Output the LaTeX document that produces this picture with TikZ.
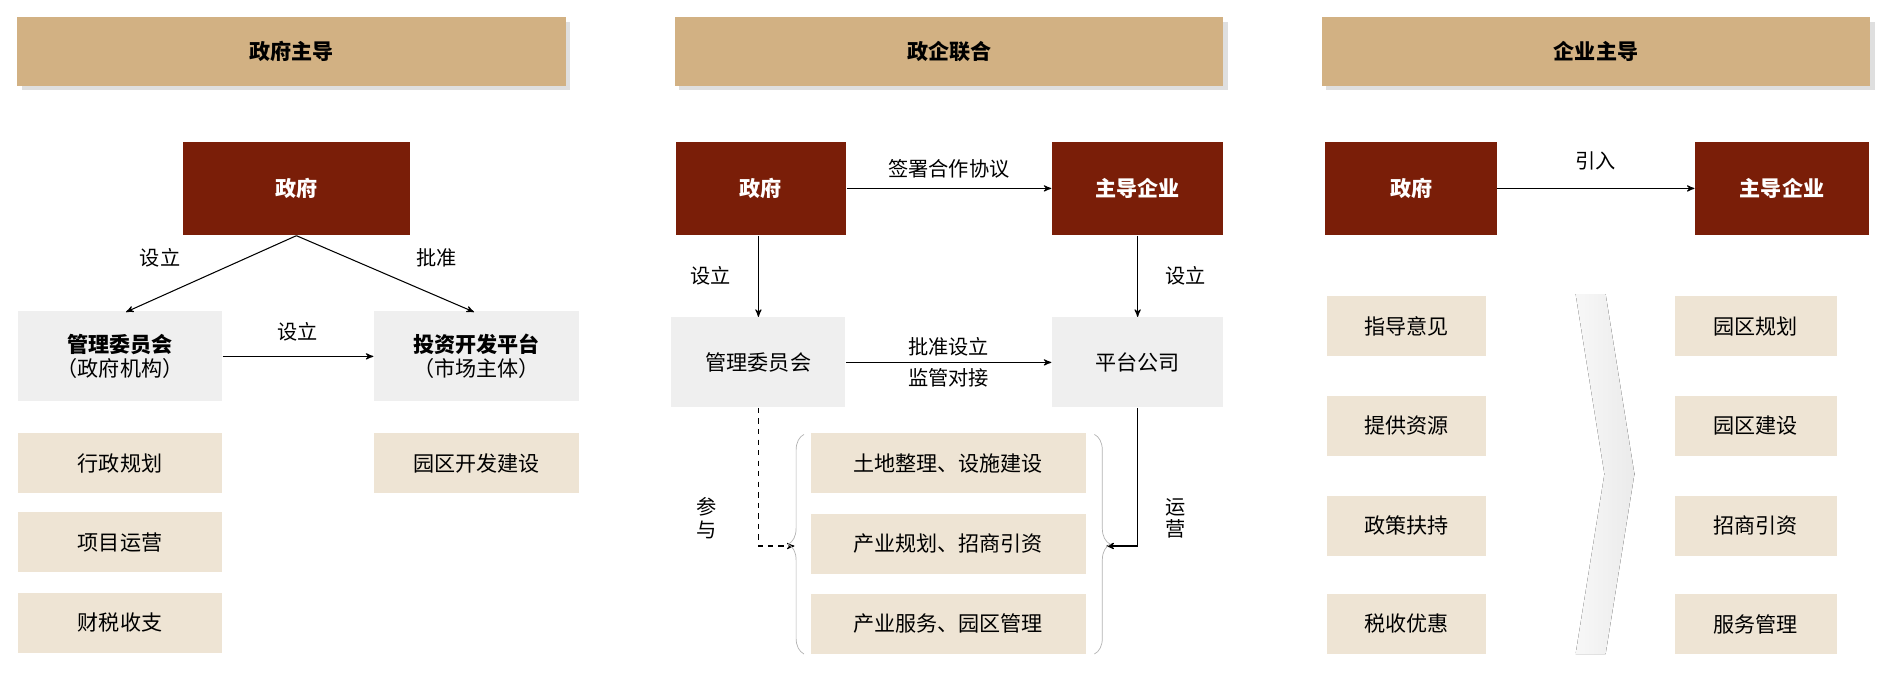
\documentclass[tikz,border=0pt]{standalone}
\usepackage{fontspec}
\setmainfont{Noto Sans CJK SC}
\usetikzlibrary{arrows, shadows, decorations.pathreplacing}
\definecolor{hdtan}{HTML}{D2B183}
\definecolor{darkred}{HTML}{7A1E08}
\definecolor{lighttan}{HTML}{EEE4D4}
\definecolor{lightgrey}{HTML}{EFEFEF}
\begin{document}
\begin{tikzpicture}[x=0.024cm, y=-0.024cm, ->, >=stealth', semithick, font=\fontsize{12}{14}\selectfont,
	header/.style={fill=hdtan, font=\fontsize{12}{14}\selectfont\bfseries, minimum width=10.97cm, minimum height=1.37cm, drop shadow={shadow xshift=2.5pt, shadow yshift=-2.5pt, fill=gray!50}},
	redbox/.style={fill=darkred, text=white, font=\fontsize{12}{14}\selectfont\bfseries, minimum height=1.87cm},
	greybox/.style={fill=lightgrey, minimum height=1.8cm, align=center},
	tanbox/.style={fill=lighttan, minimum height=1.2cm},
	lbl/.style={font=\fontsize{11.5}{13}\selectfont}]
		\useasboundingbox (0,0) rectangle (1570,565);
		% headers
		\node[header]	(h1) at (243, 43) {政府主导};
		\node[header]	(h2) at (791, 43) {政企联合};
		\node[header]	(h3) at (1330, 43) {企业主导};
		
		% government-led
		\node[redbox, minimum width=4.54cm]		(gov1) at (247, 157) {政府};
		\node[greybox, minimum width=4.08cm]	(mc1) at (100, 297) {\textbf{管理委员会}\\（政府机构）};
		\node[greybox, minimum width=4.1cm]		(pf1) at (397, 297) {\textbf{投资开发平台}\\（市场主体）};
		\node[tanbox, minimum width=4.08cm]		(t11) at (100, 386) {行政规划};
		\node[tanbox, minimum width=4.08cm]		(t12) at (100, 452) {项目运营};
		\node[tanbox, minimum width=4.08cm]		(t13) at (100, 519) {财税收支};
		\node[tanbox, minimum width=4.1cm]		(t14) at (397, 386) {园区开发建设};
		\coordinate (mc1top) at (105, 260);
		\coordinate (pf1top) at (395, 260);
		
		\path	(gov1.south) edge node[lbl, above left, xshift=-14pt] {设立} (mc1top)
				(gov1.south) edge node[lbl, above right, xshift=14pt] {批准} (pf1top)
				(mc1) edge node[lbl, above=5pt] {设立} (pf1);
		
		% joint
		\node[redbox, minimum width=3.41cm]		(gov2) at (634, 157) {政府};
		\node[redbox, minimum width=3.43cm]		(ent2) at (948, 157) {主导企业};
		\node[greybox, minimum width=3.48cm]	(mc2) at (632, 302) {管理委员会};
		\node[greybox, minimum width=3.43cm]	(pf2) at (948, 302) {平台公司};
		\node[tanbox, minimum width=5.5cm]		(t21) at (790, 386) {土地整理、设施建设};
		\node[tanbox, minimum width=5.5cm]		(t22) at (790, 453) {产业规划、招商引资};
		\node[tanbox, minimum width=5.5cm]		(t23) at (790, 520) {产业服务、园区管理};
		\coordinate (lb) at (662, 455);
		\coordinate (rb) at (922, 455);
		
		\path	(gov2) edge node[lbl, above=2pt] {签署合作协议} (ent2)
				(gov2.south -| mc2) edge node[lbl, left=12pt] {设立} (mc2)
				(ent2) edge node[lbl, right=12pt] {设立} (pf2)
				(mc2) edge node[lbl, above] {批准设立} node[lbl, below] {监管对接} (pf2);
		\draw[dashed] (mc2.south) |- node[lbl, pos=0.4, left=20pt, align=center] {参\\与} (lb);
		\draw (pf2.south) |- node[lbl, pos=0.4, right=12pt, align=center] {运\\营} (rb);
		\draw[-, thin, gray!60, decorate, decoration={brace, amplitude=9pt}] (670, 545) -- (670, 362);
		\draw[-, thin, gray!60, decorate, decoration={brace, amplitude=9pt}] (912, 362) -- (912, 545);
		
		% enterprise-led
		\node[redbox, minimum width=3.43cm]		(gov3) at (1176, 157) {政府};
		\node[redbox, minimum width=3.48cm]		(ent3) at (1485, 157) {主导企业};
		\path	(gov3) edge node[lbl, above=7pt] {引入} (ent3);
		\fill[left color=gray!6, right color=gray!16, draw=none] (1313, 245) -- (1338, 245) -- (1362, 395) -- (1338, 545) -- (1313, 545) -- (1337, 395) -- cycle;
		\foreach \y/\l/\r [count=\i] in {272/指导意见/园区规划, 355/提供资源/园区建设, 438/政策扶持/招商引资, 520/税收优惠/服务管理} {
			\node[tanbox, minimum width=3.19cm]	(l\i) at (1172, \y) {\l};
			\node[tanbox, minimum width=3.24cm]	(r\i) at (1463, \y) {\r};
		}
	\end{tikzpicture}
\end{document}
